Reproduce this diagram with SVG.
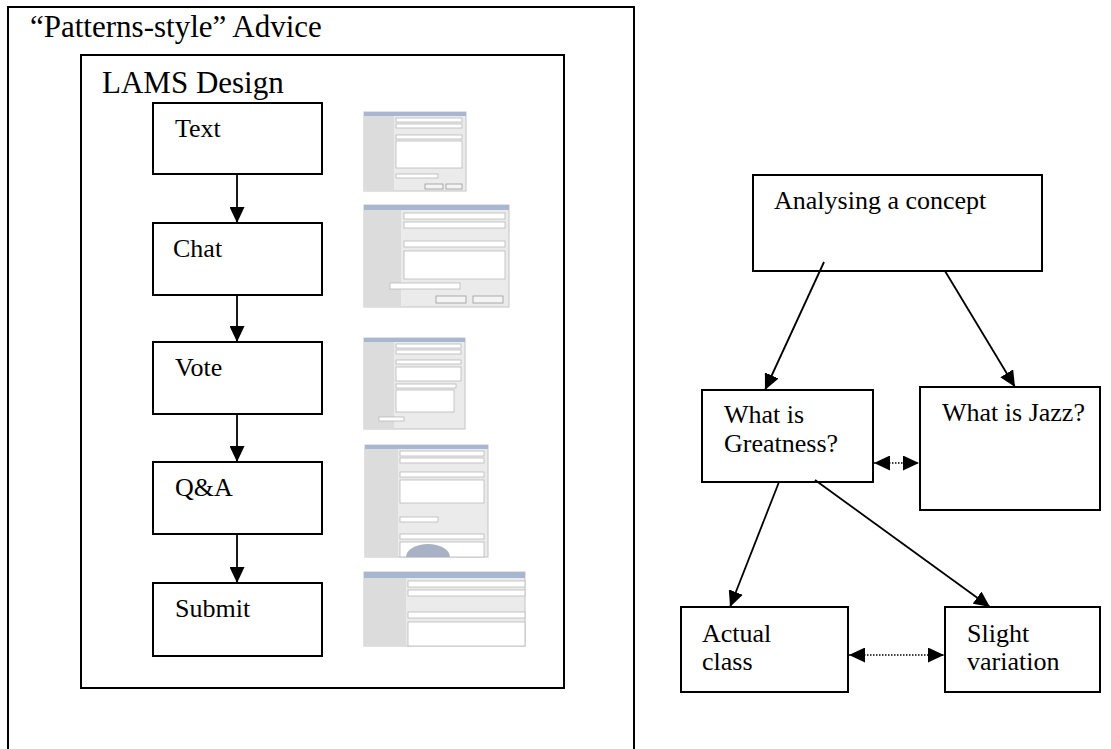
<svg xmlns="http://www.w3.org/2000/svg" width="1111" height="749" viewBox="0 0 1111 749">
<style>
.box{fill:#fff;stroke:#000;stroke-width:2}
.frame{fill:none;stroke:#000;stroke-width:2}
.lbl{font-family:"Liberation Serif","Times New Roman",serif;font-size:26px;fill:#000}
.ttl{font-family:"Liberation Serif","Times New Roman",serif;font-size:31px;fill:#000}
.ln{stroke:#000;stroke-width:1.8;fill:none}
.dot{stroke:#000;stroke-width:1.5;stroke-dasharray:1.5 1.5;fill:none}
.ss{fill:#ebebeb;stroke:#c4c4c4;stroke-width:1}
.bar{fill:#a8b6d2}
.col{fill:#dcdcdc}
.fld{fill:#fff;stroke:#b8b8b8;stroke-width:0.8}
.btn{fill:#f4f4f4;stroke:#999;stroke-width:0.8}
</style>
<defs>
<marker id="ah" viewBox="0 0 16 15" refX="16" refY="7.5" markerWidth="16" markerHeight="15" markerUnits="userSpaceOnUse" orient="auto-start-reverse">
<path d="M0,0 L16,7.5 L0,15 Z" fill="#000"/>
</marker>
</defs>
<rect width="1111" height="749" fill="#fff"/>

<g id="outer-advice">
<rect class="frame" x="8" y="7" width="626" height="760"/>
<text class="ttl" x="30" y="37">“Patterns-style” Advice</text>
</g>
<g id="lams-design">
<rect class="frame" x="81" y="55" width="483" height="633"/>
<text class="ttl" x="102" y="93">LAMS Design</text>
</g>

<g id="node-text"><rect class="box" x="153" y="103" width="169" height="71"/><text class="lbl" x="175" y="137">Text</text></g>
<g id="node-chat"><rect class="box" x="153" y="223" width="169" height="72"/><text class="lbl" x="173" y="257">Chat</text></g>
<g id="node-vote"><rect class="box" x="153" y="342" width="169" height="72"/><text class="lbl" x="175" y="376">Vote</text></g>
<g id="node-qa"><rect class="box" x="153" y="462" width="169" height="72"/><text class="lbl" x="175" y="496">Q&amp;A</text></g>
<g id="node-submit"><rect class="box" x="153" y="583" width="169" height="73"/><text class="lbl" x="175" y="617">Submit</text></g>

<g id="shot-text">
<rect class="ss" x="364" y="112" width="102" height="79"/>
<rect class="bar" x="364" y="112" width="102" height="4"/>
<rect class="col" x="364" y="116" width="30" height="75"/>
<rect class="fld" x="396" y="118" width="66" height="4"/>
<rect class="fld" x="396" y="124" width="66" height="4"/>
<rect class="fld" x="396" y="135" width="66" height="4"/>
<rect class="fld" x="396" y="141" width="66" height="27"/>
<rect class="fld" x="396" y="174" width="42" height="4"/>
<rect class="btn" x="425" y="184" width="18" height="5"/>
<rect class="btn" x="446" y="184" width="16" height="5"/>
</g>
<g id="shot-chat">
<rect class="ss" x="364" y="205" width="145" height="102"/>
<rect class="bar" x="364" y="205" width="145" height="5"/>
<rect class="col" x="364" y="210" width="37" height="97"/>
<rect class="fld" x="404" y="213" width="101" height="6"/>
<rect class="fld" x="404" y="222" width="101" height="6"/>
<rect class="fld" x="404" y="241" width="101" height="6"/>
<rect class="fld" x="404" y="251" width="101" height="28"/>
<rect class="fld" x="390" y="283" width="70" height="6"/>
<rect class="btn" x="436" y="296" width="30" height="7"/>
<rect class="btn" x="473" y="296" width="30" height="7"/>
</g>
<g id="shot-vote">
<rect class="ss" x="364" y="338" width="101" height="91"/>
<rect class="bar" x="364" y="338" width="101" height="4"/>
<rect class="col" x="364" y="342" width="30" height="87"/>
<rect class="fld" x="396" y="344" width="65" height="4"/>
<rect class="fld" x="396" y="350" width="65" height="4"/>
<rect class="fld" x="396" y="360" width="65" height="4"/>
<rect class="fld" x="396" y="367" width="65" height="14"/>
<rect class="fld" x="396" y="384" width="60" height="4"/>
<rect class="fld" x="396" y="390" width="58" height="22"/>
<rect class="fld" x="379" y="417" width="25" height="4"/>
</g>
<g id="shot-qa">
<rect class="ss" x="365" y="445" width="123" height="112"/>
<rect class="bar" x="365" y="445" width="123" height="4"/>
<rect class="col" x="365" y="449" width="33" height="108"/>
<rect class="fld" x="400" y="451" width="84" height="5"/>
<rect class="fld" x="400" y="458" width="84" height="5"/>
<rect class="fld" x="400" y="472" width="84" height="5"/>
<rect class="fld" x="400" y="480" width="84" height="23"/>
<rect class="fld" x="400" y="517" width="38" height="5"/>
<rect class="fld" x="400" y="534" width="84" height="5"/>
<rect class="fld" x="400" y="542" width="84" height="15"/>
<path d="M406,557 A22,13 0 0 1 450,557 Z" fill="#a9b2c4"/>
</g>
<g id="shot-submit">
<rect class="ss" x="364" y="572" width="161" height="74"/>
<rect class="bar" x="364" y="572" width="161" height="6"/>
<rect class="col" x="364" y="578" width="42" height="68"/>
<rect class="fld" x="408" y="581" width="117" height="6"/>
<rect class="fld" x="408" y="590" width="117" height="6"/>
<rect class="fld" x="408" y="612" width="117" height="6"/>
<rect class="fld" x="408" y="622" width="117" height="24"/>
</g>

<g id="node-analysing"><rect class="box" x="753" y="175" width="289" height="96"/><text class="lbl" x="774" y="209">Analysing a concept</text></g>
<g id="node-greatness"><rect class="box" x="702" y="390" width="171" height="92"/><text class="lbl" x="724" y="423">What is</text><text class="lbl" x="724" y="452">Greatness?</text></g>
<g id="node-jazz"><rect class="box" x="920" y="387" width="180" height="123"/><text class="lbl" x="942" y="421">What is Jazz?</text></g>
<g id="node-actual"><rect class="box" x="681" y="607" width="167" height="85"/><text class="lbl" x="702" y="642">Actual</text><text class="lbl" x="702" y="670">class</text></g>
<g id="node-slight"><rect class="box" x="945" y="607" width="155" height="85"/><text class="lbl" x="967" y="642">Slight</text><text class="lbl" x="967" y="670">variation</text></g>

<g id="connectors">
<line class="ln" x1="237" y1="174" x2="237" y2="223" marker-end="url(#ah)"/>
<line class="ln" x1="237" y1="295" x2="237" y2="342" marker-end="url(#ah)"/>
<line class="ln" x1="237" y1="414" x2="237" y2="462" marker-end="url(#ah)"/>
<line class="ln" x1="237" y1="534" x2="237" y2="583" marker-end="url(#ah)"/>
<line class="ln" x1="824" y1="262" x2="765" y2="390" marker-end="url(#ah)"/>
<line class="ln" x1="945" y1="271" x2="1015" y2="387" marker-end="url(#ah)"/>
<line class="ln" x1="779" y1="482" x2="730" y2="607" marker-end="url(#ah)"/>
<line class="ln" x1="815" y1="480" x2="990" y2="607" marker-end="url(#ah)"/>
<line class="dot" x1="874" y1="463" x2="919" y2="463" marker-start="url(#ah)" marker-end="url(#ah)"/>
<line class="dot" x1="849" y1="655" x2="944" y2="655" marker-start="url(#ah)" marker-end="url(#ah)"/>
</g>
</svg>
